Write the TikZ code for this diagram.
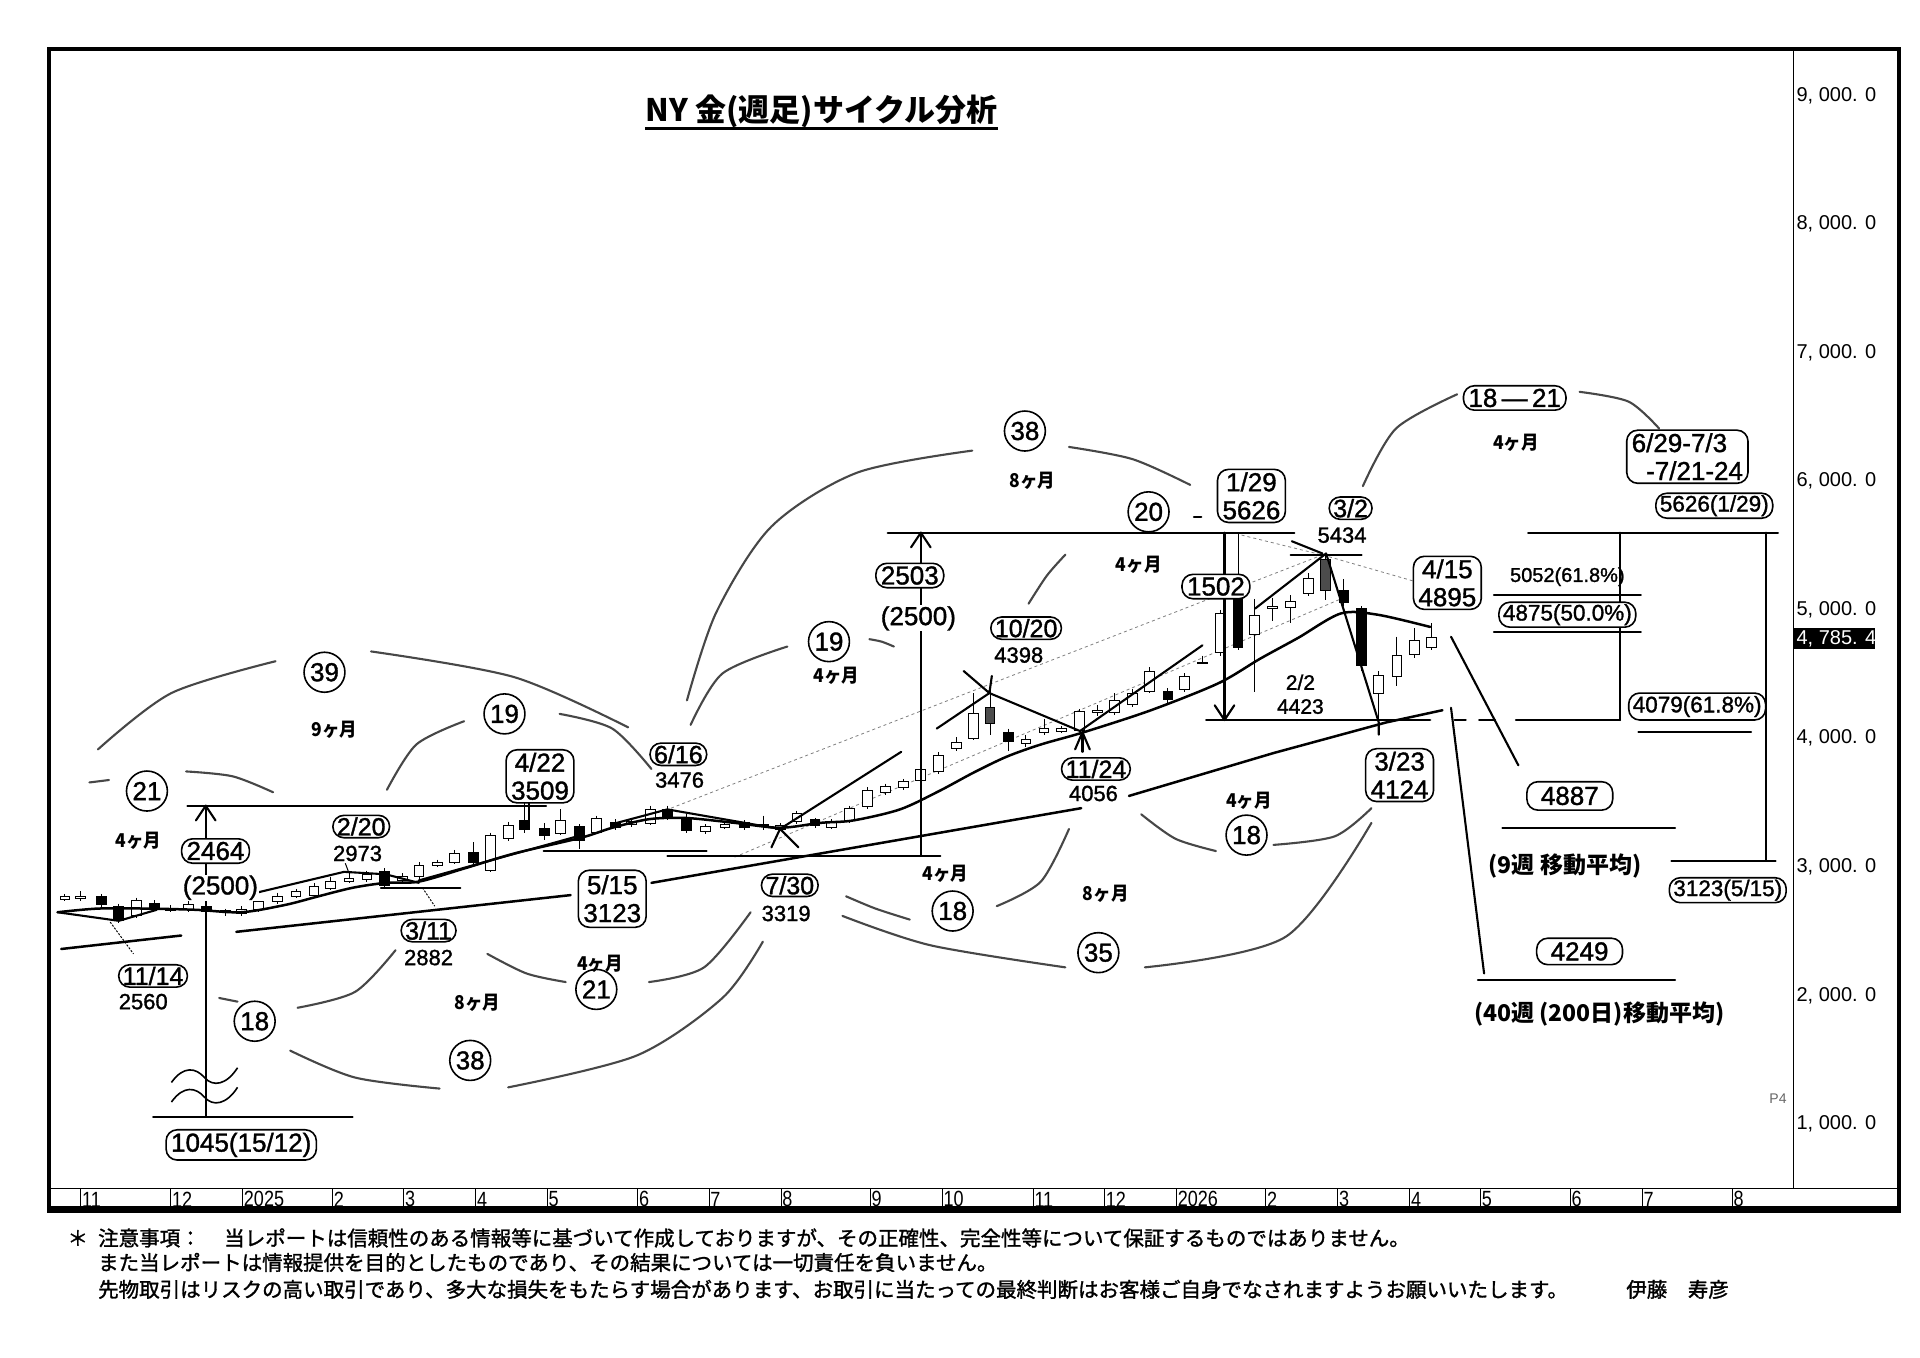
\documentclass[tikz,border=0pt]{standalone}
\usepackage{fontspec}
\setmainfont{Liberation Sans}
\newfontfamily\nf{Liberation Sans}
\newfontfamily\nfb[FakeBold=1.3]{Liberation Sans}
\newfontfamily\jp{Noto Sans CJK JP}
\newfontfamily\jpf[FakeBold=1.4]{Noto Sans CJK JP}
\newfontfamily\jpn[FakeStretch=0.92]{Noto Sans CJK JP}
\usetikzlibrary{shapes.geometric}
\tikzset{
 lb/.style={font=\nfb\fontsize{26}{28}\selectfont, inner sep=1pt, align=center},
 sl/.style={font=\nfb\fontsize{22}{24}\selectfont, inner sep=1pt, align=center},
 bx/.style={lb, draw, rounded corners=11pt, line width=1.6pt, inner xsep=5pt, inner ysep=3pt, fill=white},
 sbx/.style={bx, font=\nfb\fontsize{25}{27}\selectfont, inner xsep=4pt, inner ysep=2pt},
 fbx/.style={bx, font=\nfb\fontsize{22.5}{24}\selectfont, inner xsep=4pt, inner ysep=2pt},
 circ/.style={draw, ellipse, line width=1.6pt, minimum width=37pt, minimum height=40pt, inner sep=0pt, fill=white, font=\nfb\fontsize{26}{26}\selectfont},
 mon/.style={font=\jpn\bfseries\fontsize{19}{19}\selectfont, inner sep=0pt},
 arcl/.style={line width=2.1pt, draw=black!72, line cap=round},
 mavg/.style={line width=2.5pt, line cap=round, line join=round},
 anno/.style={line width=2.1pt, line cap=round, line join=round},
 dsh/.style={draw=gray, line width=0.8pt, dash pattern=on 3pt off 3pt},
 ax/.style={font=\nf\fontsize{20}{20}\selectfont, anchor=west, inner sep=0pt},
 mx/.style={font=\nf\fontsize{22}{22}\selectfont, xscale=0.82, anchor=south west, inner sep=0pt},
 ft/.style={font=\jpf\fontsize{20.5}{22}\selectfont, anchor=west, inner sep=0pt},
}
\begin{document}
\begin{tikzpicture}[x=1.2245pt,y=-1.2245pt]
\useasboundingbox (0,0) rectangle (1568,1109);
\fill[white] (0,0) rectangle (1568,1109);

% ---------- frame ----------
\draw[line width=4pt] (40,40) rectangle (1551,989);
\draw[line width=7pt] (40,988)--(1551,988);
\draw[line width=1.2pt] (1465,40)--(1465,971);
\draw[line width=1pt] (40,971)--(1551,971);
\foreach \x/\t in {66/11,139.4/12,198.1/2025,271.6/2,329.8/3,388.6/4,446.9/5,520.8/6,579/7,637.8/8,710.7/9,769.5/10,843.7/11,902/12,960.7/2026,1033.7/2,1092.4/3,1151.2/4,1209/5,1282.4/6,1341.2/7,1414.6/8}{
  \draw[line width=0.8pt] (\x,971)--(\x,986);
  \node[mx] (m\x) at (\x+1,986) {\t};
}

% ---------- right axis ----------
\foreach \v/\t in {9000/9,8000/8,7000/7,6000/6,5000/5,4000/4,3000/3,2000/2,1000/1}{
  \node[ax] (y\t) at (1467,{917.9-0.105*(\v-1000)}) {\t, 000. 0};
}
\fill[black] (1465,513) rectangle (1531,530);
\node[ax, text=white] (cur) at (1467,521.5) {4, 785. 4};
\node[font=\nf\fontsize{14}{14}\selectfont, text=black!60, inner sep=0pt] (p4) at (1452,897) {P4};

% ---------- title ----------
\node[font=\jp\bfseries\fontsize{31}{31}\selectfont, inner sep=0pt] (title) at (671,91) {NY 金(週足)サイクル分析};
\draw[line width=2.5pt] (527,105)--(815,105);

% ---------- dashed channel lines ----------
\draw[dsh] (548,660)--(1083,452);
\draw[dsh] (600,700)--(1100,487);
\draw[dsh] (1014,437)--(1083,454)--(1156,475);

% ---------- candles ----------
\foreach \x/\a/\b/\c/\d/\f in {
53/730/732/734.5/736/white, 66/728/732/733.5/736/white, 82.6/730/732/739/741/black,
97/738/740.5/751.5/754/black, 111.6/733/735.5/748/750/white, 126/735/737.5/741/744/black,
139.5/739/741.5/743.5/745/black, 154/733.5/739/743/745/white, 168.5/737/740/744.5/747/black,
184/742/743.5/745/748/white, 197.4/740/742.5/746/748/white, 211/733/736/742.5/745/white,
226.4/729/732/736.3/738/white, 241.7/726/728/731.7/733/white, 256.4/721/724/731/733/white,
270/716/720/725.5/727/white, 285/711/717.5/720/721/white, 299.6/711/714/718.2/720/white,
314/709/712/723/724.5/black, 328.6/713/716/718.7/720.5/white, 342.2/704/706.5/716/720/white,
357.5/702/704/706.6/708/white, 371.2/694/697/704/706/white, 386.5/688/695.8/704.7/706/black,
400.8/680/682/710.6/712/white, 415.5/671/674/685/687/white, 428.4/655/670/677/680/black,
444.4/672/676.8/682.3/686/black, 458/661/670/680.4/682/white, 473.4/673/675/686.3/693/black,
487/666/668.8/679.6/681/white, 502.3/669/671.5/675.5/678/black, 516/669/671/673.5/675/white,
531.3/658/660.7/672.8/674/white, 545/658/660.7/667.4/670/black, 560.3/665/667.4/678.2/680/black,
576/673/675/679/681/white, 592/671/673/675.5/677/white, 608/670/672/675.5/678/black,
623.5/666/673/674.5/678/white, 637.5/672/674/677/679/white, 650.8/662/664/671/673/white,
665.6/668/669.6/674/676/black, 678.8/669/671/676/677/white, 693.6/658/660/670.4/672/white,
708.4/643/645.6/659/661/white, 722.9/640/642/647.5/649/white, 737.7/636/638.4/642.8/645/white,
752/626/628/637.3/639/white, 766.5/614/616.6/630.4/632/white, 781.3/602/606/611.6/613/white,
795/566/583/602.8/604/white, 808.5/561/578/591/600/black!70, 823.3/595/597.8/605.5/613.5/black,
837.8/600/604/607/610/white, 852.6/587/594.5/598.4/600/white, 867/593/595/597/599/white,
881.8/579/580.7/596.4/598/white, 896.2/576/580/581.5/585/white, 910.2/566/572/582/584/white,
924.6/563/566/575.7/577/white, 939/545/548/564.7/566/white, 953.8/562/564.7/571/574/black,
967.5/550/552.3/563.3/565/white, 981.9/535.5/541/542/542.5/white, 996.7/498/501/533/536/white,
1011/435/489.6/528.8/531/black, 1024.7/489/503/518.3/565/white, 1039/488/495/496.5/507/white,
1054/486/491.5/495.7/509/white, 1068.3/468/472/484.6/487/white, 1082.4/452/457/482/490/black!70,
1097.5/473/482/492.4/495/black, 1111.6/495/497/543.4/548/black, 1126/548/552/566.6/589/white,
1140.8/520/535/552.3/560/white, 1155.2/513/523/534.3/537/white, 1168.8/509/520.5/529/531/white}{
  \draw[line width=0.9pt] (\x,\a)--(\x,\d);
  \draw[line width=0.9pt, fill=\f] (\x-4,\b) rectangle (\x+4,\c);
}

% ---------- moving averages ----------
\draw[mavg] (50,775)--(148,764);
\draw[mavg] (193,761)--(466,731);
\draw[mavg] (532,721)--(883,660);
\draw[mavg] (922,650)--(1040,615)--(1132,590)--(1178,580);
\draw[mavg] plot[smooth, tension=0.5] coordinates {(47,745) (80,742) (120,742) (160,743) (197,745) (233,739) (260,732) (288,725) (315,721) (342,720) (380,709) (420,697) (475,684) (500,676) (530,669) (560,668) (600,672) (637,676) (670,672) (697,670) (735,661) (767,646) (795,631) (822,618) (850,608) (885,598) (940,580) (995,558) (1029,538) (1060,521) (1095,501) (1125,502) (1168,512)};

% ---------- annotation lines ----------
\draw[anno] (47,745)--(97,752)--(128,743);
\draw[anno] (197,732)--(281,712)--(315,714)--(342,721);
\draw[anno] (311,725)--(376,725);
\draw[anno] (342,719)--(475,682);
\draw[anno] (500,673)--(545,661)--(637,677);
\draw[anno] (444,695)--(577,695);
\draw[anno] (432,655)--(432,672);
% 2464 arrow
\draw[anno] (153,658)--(446,658);
\coordinate (a1b) at (168,912);
\coordinate (a1t) at (168,658);
\draw[anno] (a1b)--(a1t);
\draw[anno] (160,670)--(a1t)--(176,670);
\draw[anno] (125,912)--(288,912);
\fill[white] (138,866) rectangle (198,904);
\draw[anno] (168,866)--(168,904);
\draw[line width=1.6pt] (140,884) .. controls (150,870) and (160,872) .. (167,880) .. controls (174,888) and (185,886) .. (194,872);
\draw[line width=1.6pt] (140,900) .. controls (150,886) and (160,888) .. (167,896) .. controls (174,904) and (185,902) .. (194,888);
% small leaders
\draw[line width=1pt, dash pattern=on 2pt off 1.5pt] (90,753)--(109,779);
\draw[line width=1pt] (282,705)--(285,713);
\draw[line width=1pt, dash pattern=on 2pt off 1.5pt] (345,725)--(355,740);
% 7/30 marks and trend
\draw[anno] (630,692)--(637,677)--(652,692);
\draw[anno] (637,677)--(736,614);
% 2503 arrow
\draw[anno] (545,699)--(768,699);
\coordinate (a2b) at (752,699);
\coordinate (a2t) at (752,435);
\draw[anno] (a2b)--(a2t);
\draw[anno] (744,447)--(a2t)--(760,447);
\draw[anno] (725,435)--(1057,435);
% 10/20 and 11/24
\draw[anno] (765,595)--(808,566)--(882,597);
\draw[anno] (787,548)--(808,566)--(810,552);
\draw[anno] (882,597)--(982,527);
\draw[anno] (878,612)--(884,598)--(890,612);
\draw[anno] (884,598)--(884,614);
% 1502 arrow
\coordinate (a3t) at (1000,435);
\coordinate (a3b) at (1000,588);
\draw[anno] (a3t)--(a3b);
\draw[anno] (992,576)--(a3b)--(1008,576);
\draw[anno] (985,588)--(1168,588);
\draw[anno] (1188,588)--(1197,588);
\draw[anno] (1208,588)--(1221,588);
\draw[anno] (1238,588)--(1323,588);
\draw[anno] (1323,435)--(1323,588);
% 3/2 peak
\draw[anno] (1025,497)--(1083,452);
\draw[anno] (1083,452)--(1126,590)--(1126,600);
\draw[anno] (1054,453)--(1112,453);
\draw[anno] (1055,442)--(1080,452);
% right side
\draw[anno] (1185,520)--(1240,625);
\draw[anno] (1185,578)--(1212,795);
\draw[anno] (1248,435)--(1452,435);
\draw[anno] (1442,435)--(1442,703);
\draw[anno] (1365,703)--(1450,703);
\draw[anno] (1220,486)--(1340,486);
\draw[anno] (1220,516)--(1340,516);
\draw[anno] (1338,598)--(1430,598);
\draw[anno] (1227,676)--(1368,676);
\draw[anno] (1207,800)--(1368,800);
\draw[anno] (975,422)--(981,422);

% ---------- cycle arcs ----------
\draw[arcl] (73,639)--(89,637);
\draw[arcl] plot[smooth] coordinates {(152,630) (190,634) (223,647)};
\draw[arcl] plot[smooth] coordinates {(80,612) (140,566) (225,540)};
\draw[arcl] plot[smooth] coordinates {(303,532) (420,553) (513,594)};
\draw[arcl] plot[smooth] coordinates {(316,645) (340,608) (379,589)};
\draw[arcl] plot[smooth] coordinates {(457,583) (500,595) (532,628)};
\draw[arcl] plot[smooth] coordinates {(564,592) (590,550) (643,528)};
\draw[arcl] plot[smooth] coordinates {(710,522) (720,524) (730,528)};
\draw[arcl] plot[smooth] coordinates {(794,368) (700,386) (630,430) (585,500) (561,572)};
\draw[arcl] plot[smooth] coordinates {(873,365) (925,375) (972,396)};
\draw[arcl] plot[smooth] coordinates {(840,493) (855,470) (870,453)};
\draw[arcl] (179,815)--(194,818);
\draw[arcl] plot[smooth] coordinates {(243,823) (290,810) (323,776)};
\draw[arcl] plot[smooth] coordinates {(237,858) (290,880) (359,889)};
\draw[arcl] plot[smooth] coordinates {(415,888) (520,862) (590,815) (623,769)};
\draw[arcl] plot[smooth] coordinates {(398,779) (430,795) (462,802)};
\draw[arcl] plot[smooth] coordinates {(530,802) (575,790) (613,745)};
\draw[arcl] plot[smooth] coordinates {(691,732) (715,742) (743,751)};
\draw[arcl] plot[smooth] coordinates {(814,740) (850,720) (873,677)};
\draw[arcl] plot[smooth] coordinates {(688,748) (760,772) (870,790)};
\draw[arcl] plot[smooth] coordinates {(935,790) (1050,765) (1120,672)};
\draw[arcl] plot[smooth] coordinates {(932,665) (960,685) (993,695)};
\draw[arcl] plot[smooth] coordinates {(1040,690) (1090,683) (1120,660)};
\draw[arcl] plot[smooth] coordinates {(1113,397) (1140,350) (1190,322)};
\draw[arcl] plot[smooth] coordinates {(1290,320) (1330,328) (1355,350)};

% ---------- circles ----------
\node[circ] (c21a) at (120,646) {21};
\node[circ] (c39) at (265,549) {39};
\node[circ] (c19a) at (412,583) {19};
\node[circ] (c19b) at (677,524) {19};
\node[circ] (c38a) at (837,352) {38};
\node[circ] (c20) at (938,418) {20};
\node[circ] (c21b) at (487,808) {21};
\node[circ] (c18a) at (208,834) {18};
\node[circ] (c38b) at (384,866) {38};
\node[circ] (c18b) at (778,744) {18};
\node[circ] (c35) at (897,778) {35};
\node[circ] (c18c) at (1018,682) {18};

% ---------- month spans ----------
\node[mon] (s1) at (113,687) {4ヶ月};
\node[mon] (s2) at (273,596) {9ヶ月};
\node[mon] (s3) at (390,819) {8ヶ月};
\node[mon] (s4) at (490,787) {4ヶ月};
\node[mon] (s5) at (683,552) {4ヶ月};
\node[mon] (s6) at (843,393) {8ヶ月};
\node[mon] (s7) at (930,461) {4ヶ月};
\node[mon] (s8) at (772,714) {4ヶ月};
\node[mon] (s9) at (903,730) {8ヶ月};
\node[mon] (s10) at (1020,654) {4ヶ月};
\node[mon] (s11) at (1238,362) {4ヶ月};

% ---------- labels ----------
\node[bx] (b2464) at (176,695) {2464};
\node[lb, fill=white] (t2500a) at (180,725) {(2500)};
\node[sbx] (b1114) at (125,797) {11/14};
\node[sl] (t2560) at (117,818) {2560};
\node[sbx] (b220) at (295,675) {2/20};
\node[sl] (t2973) at (292,697) {2973};
\node[sbx] (b311) at (350,760) {3/11};
\node[sl] (t2882) at (350,782) {2882};
\node[bx] (b422) at (441,634) {4/22\\3509};
\node[bx, inner ysep=5pt] (b515) at (500,734) {5/15\\3123};
\node[sbx] (b616) at (554,616) {6/16};
\node[sl] (t3476) at (555,637) {3476};
\node[sbx] (b730) at (645,723) {7/30};
\node[sl] (t3319) at (642,746) {3319};
\node[bx] (b2503) at (743,470) {2503};
\node[lb, fill=white] (t2500b) at (750,505) {(2500)};
\node[sbx] (b1020) at (838,513) {10/20};
\node[sl] (t4398) at (832,535) {4398};
\node[sbx] (b1124) at (895,628) {11/24};
\node[sl] (t4056) at (893,648) {4056};
\node[bx] (b129) at (1022,405) {1/29\\5626};
\node[bx] (b1502) at (993,479) {1502};
\node[sbx] (b32) at (1103,415) {3/2};
\node[sl] (t5434) at (1096,437) {5434};
\node[sl, font=\nfb\fontsize{21}{24}\selectfont] (t22) at (1062,567) {2/2\\4423};
\node[bx] (b415) at (1182,476) {4/15\\4895};
\node[bx] (b323) at (1143,633) {3/23\\4124};
\node[bx] (b1821) at (1237,325) {18\,—\,21};
\node[bx, align=left] (b629) at (1378,373) {6/29-7/3\\\ \ -7/21-24};
\node[fbx] (b5626) at (1400,413) {5626(1/29)};
\node[sl, font=\nfb\fontsize{20}{22}\selectfont] (t5052) at (1280,471) {5052(61.8\%)};
\node[fbx] (b4875) at (1280,502) {4875(50.0\%)};
\node[fbx, inner ysep=3pt] (b4079) at (1386,577) {4079(61.8\%)};
\node[fbx] (b3123) at (1411,727) {3123(5/15)};
\node[bx, inner xsep=14pt, inner ysep=5pt] (b4887) at (1282,650) {4887};
\node[font=\jp\bfseries\fontsize{23}{23}\selectfont, inner sep=0pt] (t9w) at (1278,707) {(9週 移動平均)};
\node[bx, inner xsep=14pt, inner ysep=4pt] (b4249) at (1290,777) {4249};
\node[font=\jp\bfseries\fontsize{23}{23}\selectfont, inner sep=0pt] (t40w) at (1306,828) {(40週 (200日)移動平均)};
\node[bx] (b1045) at (197,935) {1045(15/12)};

% ---------- footer ----------
\node[ft] (f0) at (55,1011) {＊};
\node[ft] (f1a) at (80,1011) {注意事項：};
\node[ft] (f1b) at (183,1011) {当レポートは信頼性のある情報等に基づいて作成しておりますが、その正確性、完全性等について保証するものではありません。};
\node[ft] (f2) at (80,1031) {また当レポートは情報提供を目的としたものであり、その結果については一切責任を負いません。};
\node[ft] (f3) at (80,1053) {先物取引はリスクの高い取引であり、多大な損失をもたらす場合があります、お取引に当たっての最終判断はお客様ご自身でなされますようお願いいたします。};
\node[ft] (f4) at (1328,1053) {伊藤　寿彦};
\end{tikzpicture}
\end{document}
